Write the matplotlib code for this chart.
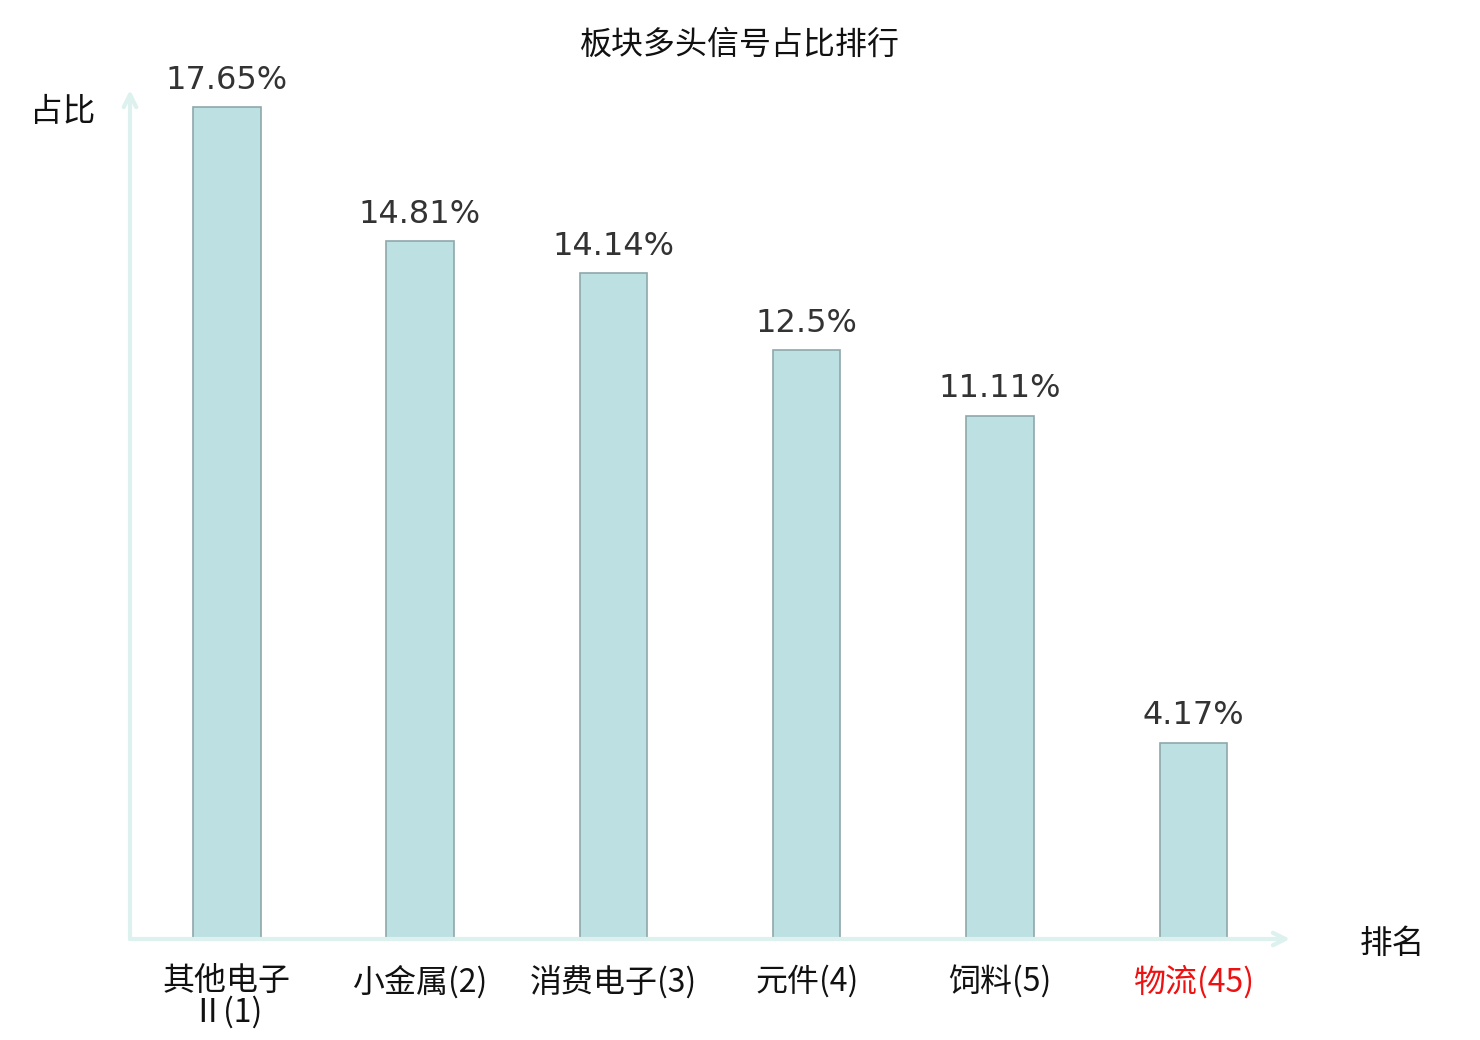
import matplotlib
matplotlib.use("Agg")
import matplotlib.pyplot as plt

plt.rcParams['font.family'] = ['Noto Sans CJK SC', 'DejaVu Sans']

categories = ["其他电子\nⅡ(1)", "小金属(2)", "消费电子(3)", "元件(4)", "饲料(5)", "物流(45)"]
values = [17.65, 14.81, 14.14, 12.5, 11.11, 4.17]
value_labels = ["17.65%", "14.81%", "14.14%", "12.5%", "11.11%", "4.17%"]
label_colors = ["#111111", "#111111", "#111111", "#111111", "#111111", "#ee1111"]

fig = plt.figure(figsize=(14.8, 10.4), dpi=100)
ax = fig.add_axes([130/1480, 1-939/1040, 1160/1480, (939-90)/1040])

x = list(range(len(categories)))
ax.bar(x, values, width=0.35, color="#bde0e3", edgecolor="#8ea8aa", linewidth=1.2, zorder=3)
ax.set_xlim(-0.5, 5.5)
ax.set_ylim(0, 18.02)

for xi, v, lab in zip(x, values, value_labels):
    ax.annotate(lab, (xi, v), xytext=(0, 8), textcoords="offset points",
                ha="center", va="bottom", fontsize=23, color="#333333",
                family="DejaVu Sans")

for s in ax.spines.values():
    s.set_visible(False)
ax.set_yticks([])
ax.set_xticks(x)
ax.set_xticklabels(categories, fontsize=23, linespacing=0.95)
for t, c in zip(ax.get_xticklabels(), label_colors):
    t.set_color(c)
ax.tick_params(axis="x", length=0, pad=19)

arrow_kw = dict(arrowstyle="->,head_length=0.9,head_width=0.45", color="#ddf1ef", lw=3,
                shrinkA=0, shrinkB=0)
ax.annotate("", xy=(1, 0), xytext=(0, 0), xycoords="axes fraction",
            textcoords="axes fraction", arrowprops=arrow_kw, zorder=4)
ax.annotate("", xy=(0, 1), xytext=(0, 0), xycoords="axes fraction",
            textcoords="axes fraction", arrowprops=arrow_kw, zorder=4)

fig.text(63/1480, 1-112/1040, "占比", ha="center", va="center", fontsize=23.5, color="#111111")
fig.text(1392/1480, 1-944/1040, "排名", ha="center", va="center", fontsize=23.5, color="#111111")
fig.text(740/1480, 1-45/1040, "板块多头信号占比排行", ha="center", va="center", fontsize=23, color="#111111")

fig.savefig("out.png", dpi=100)
